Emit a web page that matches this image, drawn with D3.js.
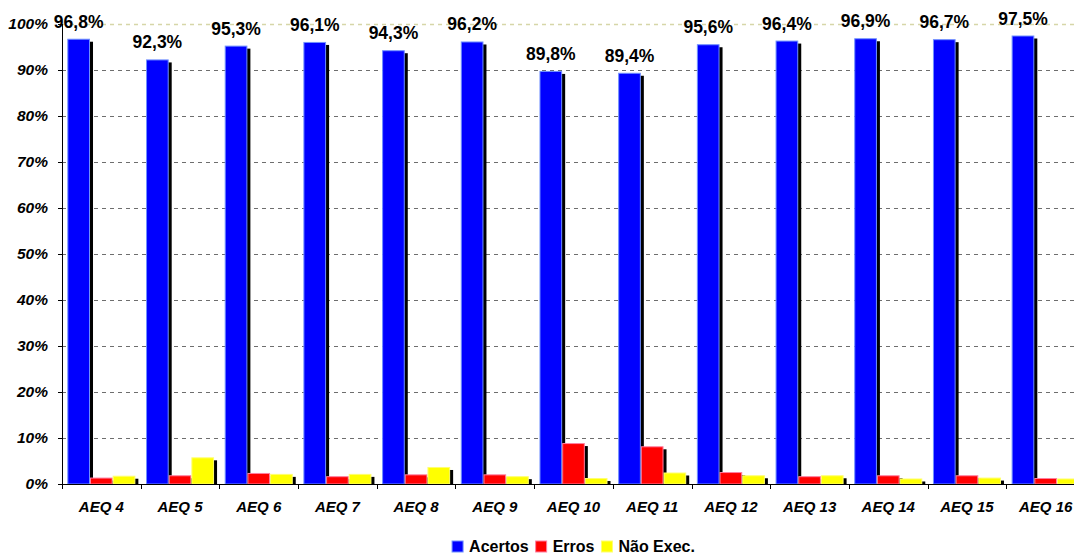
<!DOCTYPE html>
<html>
<head>
<meta charset="utf-8">
<script src="https://cdn.jsdelivr.net/npm/d3@7"></script>
<style>
  html, body { margin: 0; padding: 0; background: #fff; }
  svg { display: block; font-family: "Liberation Sans", Arial, sans-serif; }
</style>
</head>
<body>
<svg id="chart" width="1074" height="554"></svg>
<script>
// Percentage of results per round
const categories = ["AEQ 4", "AEQ 5", "AEQ 6", "AEQ 7", "AEQ 8", "AEQ 9", "AEQ 10",
                    "AEQ 11", "AEQ 12", "AEQ 13", "AEQ 14", "AEQ 15", "AEQ 16"];
const acertos = [96.8, 92.3, 95.3, 96.1, 94.3, 96.2, 89.8, 89.4, 95.6, 96.4, 96.9, 96.7, 97.5];
const erros   = [1.4, 1.9, 2.4, 1.7, 2.1, 2.1, 8.9, 8.2, 2.6, 1.7, 1.9, 1.9, 1.3];
const naoExec = [1.8, 5.8, 2.2, 2.2, 3.7, 1.7, 1.3, 2.5, 1.9, 1.9, 1.2, 1.4, 1.2];
const seriesNames = ["Acertos", "Erros", "Não Exec."];
const yTicks = [0, 10, 20, 30, 40, 50, 60, 70, 80, 90, 100];

const seriesValues = [acertos, erros, naoExec];
const fills   = ["#0000ff", "#ff0000", "#ffff00"];
const strokes = ["#7090ff", "#ff7fa0", "#ffff70"];

const svg = d3.select("#chart");
const plotLeft = 62, plotRight = 1085, plotTop = 24, plotBottom = 484;

const x0 = d3.scaleBand().domain(categories).range([plotLeft, plotRight]).padding(0);
const x1 = d3.scaleBand().domain(seriesNames).range([0, x0.bandwidth()])
  .paddingInner(0).paddingOuter(0.235);
const y = d3.scaleLinear().domain([0, 100]).range([plotBottom, plotTop]);

// Gridlines
svg.append("g").selectAll("line")
  .data(yTicks.filter(t => t > 0))
  .join("line")
  .attr("x1", plotLeft).attr("x2", 1074)
  .attr("y1", d => Math.round(y(d)) + 0.5).attr("y2", d => Math.round(y(d)) + 0.5)
  .attr("stroke", d => d === 100 ? "#d6d6a8" : "#6e6e6e")
  .attr("stroke-width", d => d === 100 ? 1.5 : 1)
  .attr("stroke-dasharray", "4,4");

// Bars: per category, each series draws its shadow, then the bar itself
const groups = svg.append("g").selectAll("g")
  .data(categories)
  .join("g")
  .attr("transform", d => `translate(${x0(d)},0)`);

groups.each(function(cat, i) {
  const g = d3.select(this);
  seriesNames.forEach((s, k) => {
    const v = seriesValues[k][i];
    const bx = x1(s), bw = x1.bandwidth();
    const by = y(v), bh = y(0) - y(v);
    g.append("rect")
      .attr("x", bx + 3).attr("y", by + 3)
      .attr("width", bw).attr("height", Math.max(0, bh - 3))
      .attr("fill", "#000");
    g.append("rect")
      .attr("x", bx + 0.5).attr("y", by + 0.5)
      .attr("width", bw - 1).attr("height", Math.max(0, bh - 0.5))
      .attr("fill", fills[k])
      .attr("stroke", strokes[k]).attr("stroke-width", 1);
  });
  // Value label over the Acertos bar
  const v = acertos[i];
  g.append("text")
    .attr("x", x1("Acertos") + x1.bandwidth() / 2)
    .attr("y", y(v) - 11)
    .attr("text-anchor", "middle")
    .attr("font-size", 17.5).attr("font-weight", "bold")
    .attr("fill", "#000")
    .text(d3.format(".1f")(v).replace(".", ",") + "%");
});

// Y axis
const yAxis = d3.axisLeft(y).tickValues(yTicks).tickSize(4).tickFormat(d => d + "%");
const ya = svg.append("g").attr("transform", `translate(${plotLeft},0)`).call(yAxis);
ya.attr("font-family", null).attr("font-size", null);
ya.select(".domain").attr("stroke", "#000").attr("d", `M0.5,${plotTop}V${plotBottom}`);
ya.selectAll(".tick line").attr("stroke", "#000");
ya.selectAll(".tick text")
  .attr("x", -14)
  .attr("font-size", 15.5).attr("font-weight", "bold").attr("font-style", "italic")
  .attr("fill", "#000");

// X axis with ticks on the band boundaries
const xa = svg.append("g").attr("transform", `translate(0,${plotBottom})`);
xa.append("line").attr("x1", plotLeft).attr("x2", 1074)
  .attr("y1", 0.5).attr("y2", 0.5).attr("stroke", "#000");
xa.selectAll(".bt").data(categories)
  .join("line").attr("class", "bt")
  .attr("x1", d => Math.round(x0(d)) + 0.5).attr("x2", d => Math.round(x0(d)) + 0.5)
  .attr("y1", 0).attr("y2", 5).attr("stroke", "#000");
xa.selectAll(".lbl").data(categories)
  .join("text").attr("class", "lbl")
  .attr("x", d => x0(d) + x0.bandwidth() / 2)
  .attr("y", 28)
  .attr("text-anchor", "middle")
  .attr("font-size", 15).attr("font-weight", "bold").attr("font-style", "italic")
  .attr("fill", "#000")
  .text(d => d);

// Legend, centred under the plot area
const legend = svg.append("g");
let cx = 0;
seriesNames.forEach((s, k) => {
  const it = legend.append("g");
  it.append("rect").attr("x", 0).attr("y", -11).attr("width", 11).attr("height", 11)
    .attr("fill", fills[k]).attr("stroke", strokes[k]).attr("stroke-width", 1);
  const t = it.append("text").attr("x", 17).attr("y", 0)
    .attr("font-size", 16).attr("font-weight", "bold").attr("fill", "#000").text(s);
  const w = 17 + t.node().getComputedTextLength();
  it.attr("transform", `translate(${cx},0)`);
  cx += w + 7;
});
const totalW = cx - 7;
legend.attr("transform", `translate(${(plotLeft + plotRight) / 2 - totalW / 2},552)`);
</script>
</body>
</html>
